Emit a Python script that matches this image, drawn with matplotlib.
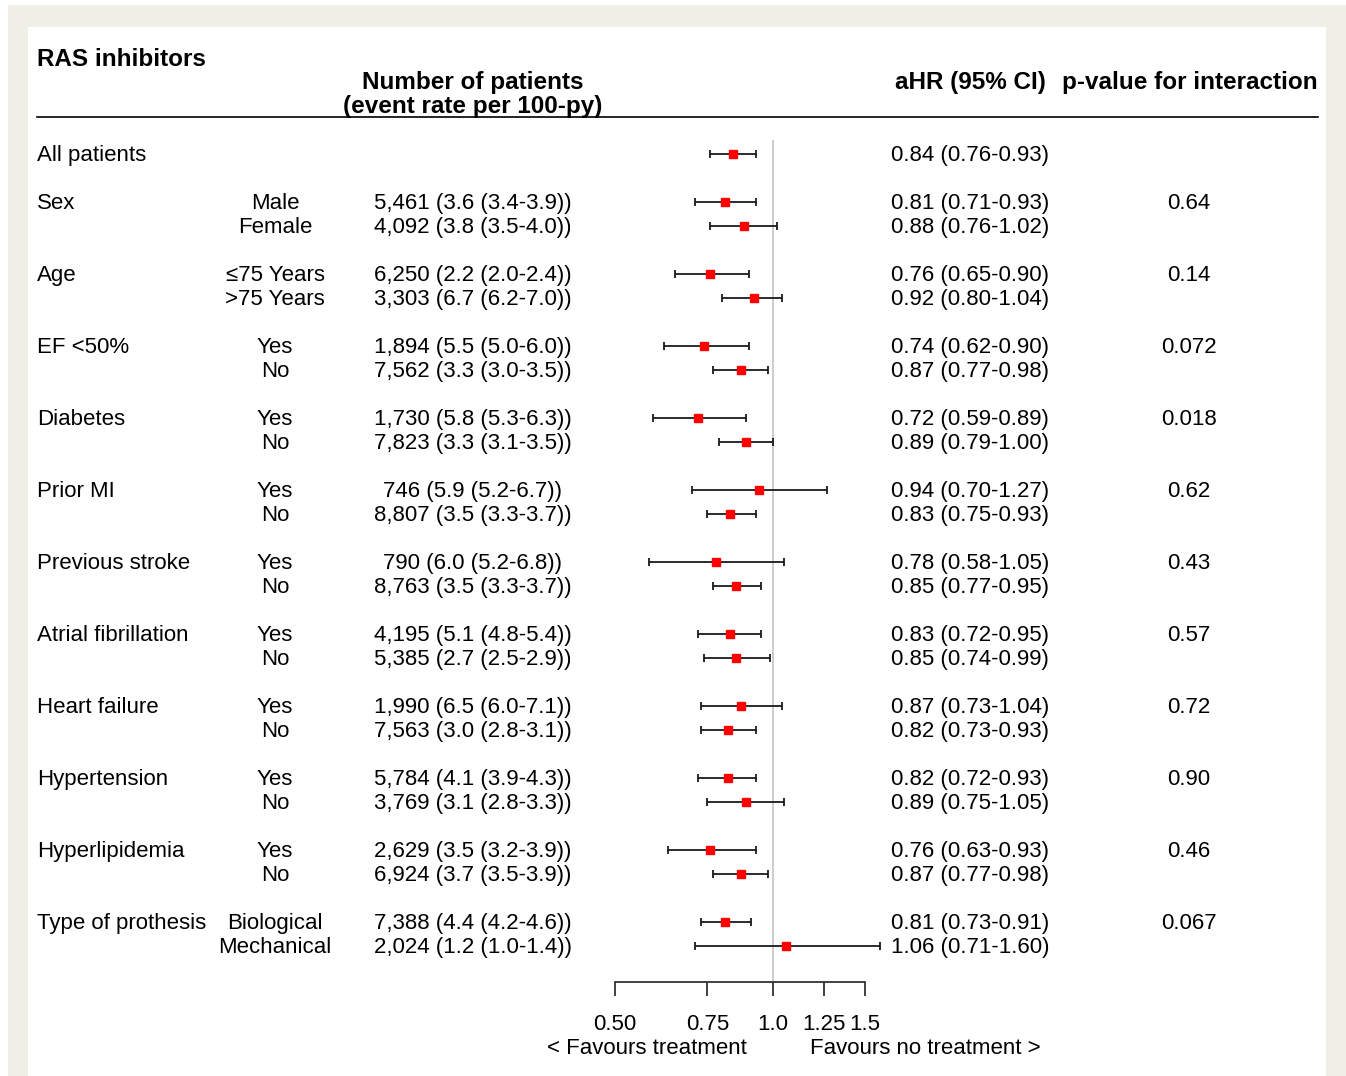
import numpy as np
import matplotlib
matplotlib.use("Agg")
from matplotlib import pyplot as plt
from matplotlib.patches import Rectangle
from matplotlib.lines import Line2D
from matplotlib.transforms import blended_transform_factory

plt.rcParams['font.family'] = ['Liberation Sans', 'DejaVu Sans']

# rows of the forest plot (top to bottom)
groups = ["All patients", "Sex", "Age", "EF <50%", "Diabetes", "Prior MI",
          "Previous stroke", "Atrial fibrillation", "Heart failure",
          "Hypertension", "Hyperlipidemia", "Type of prothesis"]
sublabels = [[""], ["Male", "Female"], ["≤75 Years", ">75 Years"], ["Yes", "No"],
             ["Yes", "No"], ["Yes", "No"], ["Yes", "No"], ["Yes", "No"],
             ["Yes", "No"], ["Yes", "No"], ["Yes", "No"], ["Biological", "Mechanical"]]
patients = [[""],
            ["5,461 (3.6 (3.4-3.9))", "4,092 (3.8 (3.5-4.0))"],
            ["6,250 (2.2 (2.0-2.4))", "3,303 (6.7 (6.2-7.0))"],
            ["1,894 (5.5 (5.0-6.0))", "7,562 (3.3 (3.0-3.5))"],
            ["1,730 (5.8 (5.3-6.3))", "7,823 (3.3 (3.1-3.5))"],
            ["746 (5.9 (5.2-6.7))", "8,807 (3.5 (3.3-3.7))"],
            ["790 (6.0 (5.2-6.8))", "8,763 (3.5 (3.3-3.7))"],
            ["4,195 (5.1 (4.8-5.4))", "5,385 (2.7 (2.5-2.9))"],
            ["1,990 (6.5 (6.0-7.1))", "7,563 (3.0 (2.8-3.1))"],
            ["5,784 (4.1 (3.9-4.3))", "3,769 (3.1 (2.8-3.3))"],
            ["2,629 (3.5 (3.2-3.9))", "6,924 (3.7 (3.5-3.9))"],
            ["7,388 (4.4 (4.2-4.6))", "2,024 (1.2 (1.0-1.4))"]]
hr = [[0.84], [0.81, 0.88], [0.76, 0.92], [0.74, 0.87], [0.72, 0.89], [0.94, 0.83],
      [0.78, 0.85], [0.83, 0.85], [0.87, 0.82], [0.82, 0.89], [0.76, 0.87], [0.81, 1.06]]
lo = [[0.76], [0.71, 0.76], [0.65, 0.80], [0.62, 0.77], [0.59, 0.79], [0.70, 0.75],
      [0.58, 0.77], [0.72, 0.74], [0.73, 0.73], [0.72, 0.75], [0.63, 0.77], [0.73, 0.71]]
hi = [[0.93], [0.93, 1.02], [0.90, 1.04], [0.90, 0.98], [0.89, 1.00], [1.27, 0.93],
      [1.05, 0.95], [0.95, 0.99], [1.04, 0.93], [0.93, 1.05], [0.93, 0.98], [0.91, 1.60]]
pvals = ["", "0.64", "0.14", "0.072", "0.018", "0.62", "0.43", "0.57", "0.72",
         "0.90", "0.46", "0.067"]
ticks = [0.50, 0.75, 1.0, 1.25, 1.5]
tick_labels = ["0.50", "0.75", "1.0", "1.25", "1.5"]

W, H = 1346, 1076
fig = plt.figure(figsize=(W / 100, H / 100), dpi=100)
fig.patch.set_facecolor("white")

def fx(x):
    return x / W

def fy(y):
    return 1 - y / H

# frame
fig.patches.append(Rectangle((fx(8), 0), 1 - fx(8), fy(5), transform=fig.transFigure,
                             facecolor="#efefe6", edgecolor="none", zorder=-10))
fig.patches.append(Rectangle((fx(28), 0), fx(1326) - fx(28), fy(27), transform=fig.transFigure,
                             facecolor="white", edgecolor="none", zorder=-9))

# forest axes: x from 0.5 to 1.5 (log), rows in y
ax = fig.add_axes([fx(615), fy(982), fx(865) - fx(615), (982 - 141) / H])
ax.set_xscale("log")
ax.set_xlim(0.5, 1.5)
ax.set_ylim(34.5, -0.55)
ax.patch.set_alpha(0)
for s in ["top", "left", "right"]:
    ax.spines[s].set_visible(False)
ax.spines["bottom"].set_color("#333333")
ax.spines["bottom"].set_linewidth(1.3)
ax.set_yticks([])
ax.set_xticks(ticks)
ax.set_xticklabels(tick_labels, fontsize=16)
ax.xaxis.set_minor_locator(matplotlib.ticker.NullLocator())
ax.tick_params(axis="x", direction="out", length=10, width=1.3, color="#333333", pad=13)
ax.axvline(1.0, color="#cccccc", lw=1.4, zorder=0, clip_on=False)

tr = blended_transform_factory(fig.transFigure, ax.transData)
dy = 0.07  # nudge text to sit on the row like the reference

row = 0
for g in range(len(groups)):
    ax.text(fx(37), row + dy, groups[g], transform=tr, fontsize=16, va="center", ha="left")
    if pvals[g]:
        ax.text(fx(1189), row + dy, pvals[g], transform=tr, fontsize=16, va="center", ha="center")
    for k in range(len(hr[g])):
        if sublabels[g][k]:
            ax.text(fx(275), row + dy, sublabels[g][k], transform=tr, fontsize=16,
                    va="center", ha="center")
        if patients[g][k]:
            ax.text(fx(473), row + dy, patients[g][k], transform=tr, fontsize=16,
                    va="center", ha="center")
        ax.text(fx(891), row + dy, f"{hr[g][k]:.2f} ({lo[g][k]:.2f}-{hi[g][k]:.2f})",
                transform=tr, fontsize=16, va="center", ha="left")
        ax.errorbar(hr[g][k], row, xerr=[[hr[g][k] - lo[g][k]], [hi[g][k] - hr[g][k]]],
                    fmt="none", ecolor="#1a1a1a", elinewidth=1.3, capsize=3, capthick=1.3,
                    clip_on=False, zorder=2)
        ax.plot(hr[g][k], row, marker="s", color="#ff0000", markersize=5.5,
                linestyle="none", clip_on=False, zorder=3)
        row += 1
    row += 1

# header
fig.text(fx(37), fy(59), "RAS inhibitors", fontsize=17.5, fontweight="bold", va="center")
fig.text(fx(473), fy(83), "Number of patients", fontsize=17.5, fontweight="bold",
         va="center", ha="center")
fig.text(fx(473), fy(107), "(event rate per 100-py)", fontsize=17.5, fontweight="bold",
         va="center", ha="center")
fig.text(fx(1046), fy(83), "aHR (95% CI)", fontsize=17.5, fontweight="bold",
         va="center", ha="right")
fig.text(fx(1318), fy(83), "p-value for interaction", fontsize=17.5, fontweight="bold",
         va="center", ha="right")
fig.lines.append(Line2D([fx(37), fx(1318)], [fy(117), fy(117)], transform=fig.transFigure,
                        color="black", lw=1.2))

fig.text(fx(747), fy(1049), "< Favours treatment", fontsize=16, va="center", ha="right")
fig.text(fx(810), fy(1049), "Favours no treatment >", fontsize=16, va="center", ha="left")

fig.savefig("out.png", dpi=100, facecolor=fig.get_facecolor())
